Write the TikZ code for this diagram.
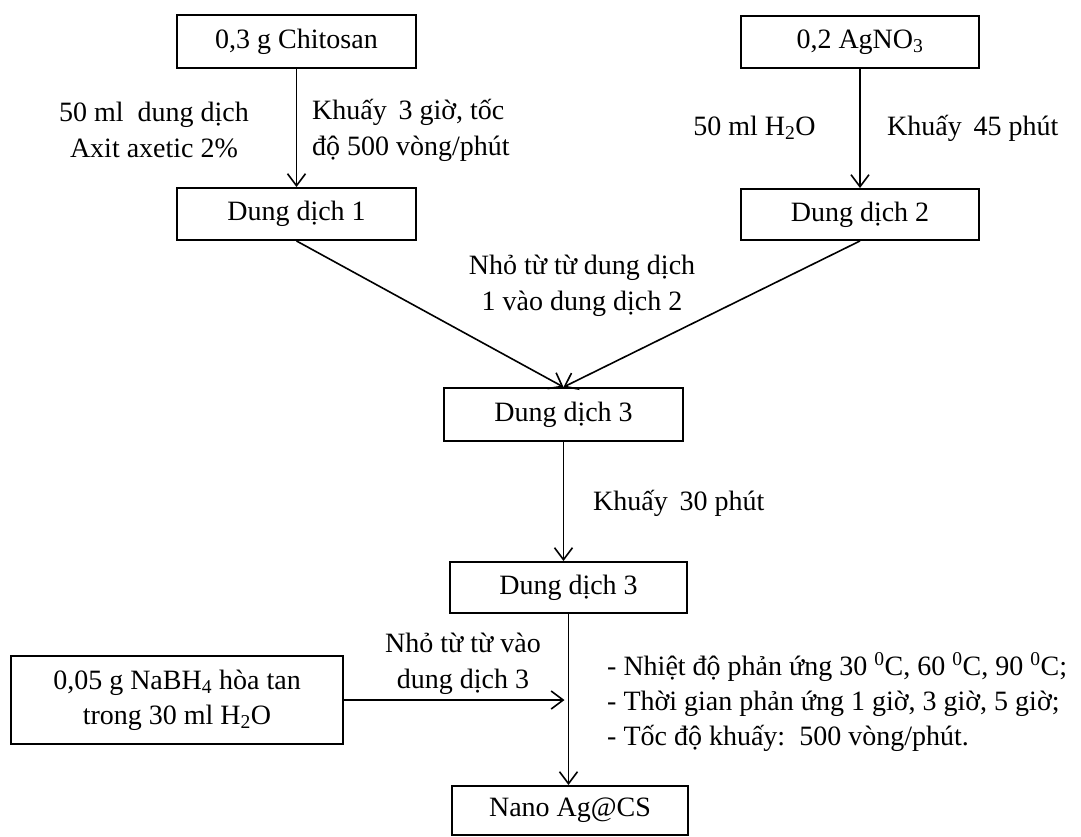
\documentclass[tikz,border=0pt]{standalone}
\usepackage{fontspec}
\setmainfont{Liberation Serif}
\usetikzlibrary{arrows.meta}
\newcommand{\subs}[1]{\textsubscript{#1}}
\begin{document}
\begin{tikzpicture}[x=1pt,y=-1pt,
  every node/.style={font=\fontsize{28}{36}\selectfont},
  box/.style={draw,line width=1.9pt,inner sep=0pt,align=center},
  lbl/.style={inner sep=0pt,align=center},
  lbll/.style={inner sep=0pt,align=left,anchor=west},
  conn/.style={line width=1.6pt,-{Straight Barb[length=12pt,width=18pt,line width=1.6pt]}}]
\useasboundingbox (0,0) rectangle (1081,836);
% boxes
\node[box,minimum width=239pt,minimum height=53pt] (c0) at (296.5,41.5) {0,3 g Chitosan};
\node[box,minimum width=238pt,minimum height=52pt] (a0) at (860,42) {0,2 AgNO\subs{3}};
\node[box,minimum width=239pt,minimum height=52pt] (d1) at (296.5,214) {Dung dịch 1};
\node[box,minimum width=238pt,minimum height=51pt] (d2) at (860,214.5) {Dung dịch 2};
\node[box,minimum width=239pt,minimum height=53pt] (d3) at (563.5,414.5) {Dung dịch 3};
\node[box,minimum width=237pt,minimum height=51pt] (d3b) at (568.5,587.5) {Dung dịch 3};
\node[box,minimum width=332pt,minimum height=88pt,font=\fontsize{28}{35}\selectfont] (nab) at (177,700) {0,05 g NaBH\subs{4} hòa tan\\trong 30 ml H\subs{2}O};
\node[box,minimum width=236pt,minimum height=49pt] (nano) at (570,810.5) {Nano Ag@CS};
% labels
\node[lbl] (l1) at (154,130) {50 ml \ dung dịch\\Axit axetic 2\%};
\node[lbll] (l2) at (312,130) {Khuấy \,3 giờ, tốc\\độ 500 vòng/phút};
\node[lbl] (l3) at (754.5,128) {50 ml H\subs{2}O};
\node[lbll] (l4) at (887,128) {Khuấy \,45 phút};
\node[lbl] (l5) at (582,286) {Nhỏ từ từ dung dịch\\1 vào dung dịch 2};
\node[lbll] (l6) at (593,503) {Khuấy \,30 phút};
\node[lbl] (l7) at (463,664) {Nhỏ từ từ vào\\dung dịch 3};
\node[lbll,font=\fontsize{28}{35}\selectfont] (l8) at (607,702) {- Nhiệt độ phản ứng 30 \textsuperscript{0}C, 60 \textsuperscript{0}C, 90 \textsuperscript{0}C;\\- Thời gian phản ứng 1 giờ, 3 giờ, 5 giờ;\\- Tốc độ khuấy: \,500 vòng/phút.};
% connectors
\draw[conn] (c0.south) -- (d1.north);
\draw[conn] (a0.south) -- (d2.north);
\draw[conn] (d1.south) -- (d3.north);
\draw[conn] (d2.south) -- (d3.north);
\draw[conn] (d3.south) -- (d3.south |- d3b.north);
\draw[conn] (d3b.south) -- (d3b.south |- nano.north);
\coordinate (j) at ([xshift=-4pt]d3b.south |- nab.east);
\draw[conn] (nab.east) -- (j);
\end{tikzpicture}
\end{document}
